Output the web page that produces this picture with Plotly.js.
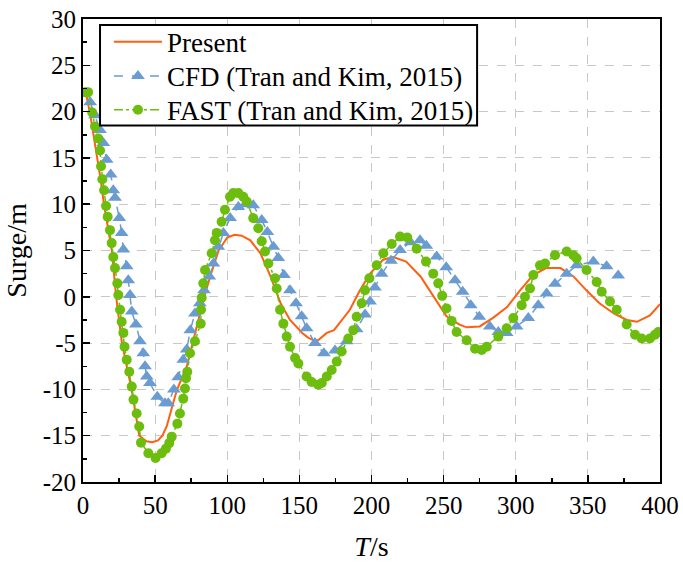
<!DOCTYPE html>
<html>
<head>
<meta charset="utf-8">
<script src="https://cdn.plot.ly/plotly-3.0.1.min.js"></script>
<style>html,body{margin:0;padding:0;background:#fff;}#chart{width:683px;height:563px;}</style>
</head>
<body>
<div id="chart"></div>
<script>
// Present (orange solid line)
var presentT = [0, 2, 4.9, 7.2, 10, 12.3, 14.5, 17.3, 20, 23, 27, 33.7, 39, 44, 48, 52, 55, 58, 65, 72, 79, 84, 89, 94, 100, 105, 110, 116, 123, 130, 137, 143.5, 152, 156, 160, 163, 169, 174, 185, 192, 199, 208, 215, 224, 234, 243, 252, 261, 266, 275, 284, 294, 303, 312, 321, 331, 340, 349, 358, 368, 377, 384, 393, 400];
var presentV = [22.3, 22.0, 19.8, 17.7, 15.0, 12.6, 10.0, 7.6, 5.0, 0.0, -5.0, -10.0, -15.0, -15.6, -15.7, -15.5, -15.0, -14.0, -10.1, -7.5, -3.2, 0.0, 2.6, 5.0, 6.4, 6.7, 6.6, 6.1, 4.7, 2.2, -0.7, -2.5, -3.9, -4.4, -4.7, -4.7, -3.9, -3.6, -1.4, 0.7, 2.5, 4.0, 4.3, 3.8, 2.2, 0.0, -2.1, -3.0, -3.3, -3.2, -2.3, -1.1, 0.7, 2.35, 3.1, 3.1, 2.2, 0.7, -0.7, -1.8, -2.5, -2.7, -2.0, -0.8];

// CFD (Tran and Kim, 2015) (blue dashed, triangles)
var cfdT = [5, 8.3, 11.8, 14.1, 16.4, 19.2, 21, 22.2, 25.2, 26.8, 28, 30.3, 31.4, 32.6, 33.8, 36.7, 39.5, 41.8, 43, 44.2, 46.4, 51.5, 56.8, 59.1, 63, 66, 69.5, 71.9, 74.4, 77.6, 81, 83.9, 87.6, 90.4, 93.8, 97.3, 102, 107.7, 112.5, 118, 123.9, 127.8, 132, 135.4, 139.3, 143.5, 147.7, 151.6, 155, 160.8, 167, 174.7, 182.8, 189.7, 195.5, 199, 202.4, 207, 213.5, 219.8, 227, 233.6, 238, 245.2, 251.8, 257.9, 263.2, 268.8, 274.7, 282, 287.9, 293.7, 300.6, 308.7, 315.6, 321.4, 327.2, 335.3, 342.2, 353.8, 363, 371];
var cfdV = [21.0, 19.6, 18.0, 16.6, 14.8, 13.2, 11.5, 10.7, 8.5, 6.9, 5.1, 3.3, 1.8, 0.2, -1.6, -3.0, -4.8, -6.1, -7.5, -8.6, -9.3, -10.8, -11.5, -11.5, -10.0, -8.7, -6.8, -5.7, -3.6, -1.8, -0.7, 0.7, 2.2, 3.6, 5.4, 6.9, 8.5, 9.7, 10.0, 9.9, 8.3, 7.0, 5.4, 4.2, 2.35, 0.7, -0.7, -2.1, -3.4, -5.0, -6.1, -5.8, -4.8, -3.5, -1.9, -0.5, 1.0, 2.5, 3.9, 5.05, 5.9, 6.1, 5.5, 4.35, 3.2, 1.8, 0.55, -0.9, -2.15, -3.2, -3.8, -3.9, -3.2, -2.3, -0.9, 0.35, 1.4, 2.5, 3.4, 3.8, 3.3, 2.3];

// FAST (Tran and Kim, 2015) (green dash-dot, circles)
var fastT = [1.5, 3.5, 6.4, 8.3, 10.6, 11.8, 12.5, 13.4, 14.6, 16, 17.1, 18.7, 19.9, 21, 22.2, 23.8, 24.5, 25.7, 26.8, 28, 28.8, 30.3, 32.1, 33.8, 35, 37.2, 39, 40.2, 45.3, 50.3, 54.5, 57.5, 59.8, 61.5, 65.4, 67.2, 69.5, 70.7, 71.4, 72.3, 74.2, 77.6, 81.6, 81.8, 82.3, 83.4, 84.6, 89.2, 91.5, 92.7, 96.1, 98.4, 101.9, 104.2, 107.7, 111.1, 113.5, 118, 121.5, 123.9, 126.2, 128.5, 133.1, 134.3, 136.6, 138.9, 141.2, 143.5, 147, 149.3, 155, 158.5, 163, 165.5, 169, 172.4, 175.9, 179.3, 183.9, 187.4, 189.7, 193.2, 195.5, 198.5, 203.6, 208.2, 214, 219.8, 224.8, 231.3, 237.8, 242.8, 246.3, 249, 252, 255.5, 259, 266, 271.8, 276.4, 279.9, 287.9, 293.7, 298.3, 304.1, 306.4, 309.9, 312.2, 316.8, 320.3, 327.2, 335.3, 339.9, 342.2, 349.1, 356.1, 359.6, 365.3, 370, 376.9, 382.7, 387.3, 393, 396.5, 398.8];
var fastV = [22.1, 22.1, 19.9, 18.4, 17.1, 15.8, 14.1, 12.7, 11.5, 9.8, 8.65, 7.2, 5.8, 4.3, 3.1, 1.45, 0.2, -1.4, -2.7, -3.9, -5.4, -6.8, -8.1, -9.7, -11.1, -12.6, -14.0, -15.75, -16.9, -17.4, -16.9, -16.4, -15.8, -15.1, -13.7, -12.6, -11.0, -9.9, -8.8, -8.1, -6.1, -4.8, -2.9, -1.4, -0.1, 1.45, 2.9, 4.7, 6.1, 6.9, 8.1, 9.4, 10.8, 11.2, 11.2, 10.8, 10.3, 8.5, 7.4, 6.0, 4.9, 3.6, 2.0, 0.9, -1.4, -2.9, -4.3, -5.4, -6.6, -7.2, -8.6, -9.2, -9.5, -9.3, -8.6, -7.9, -7.0, -5.9, -4.5, -3.6, -2.15, -0.7, 0.7, 2.0, 3.4, 4.7, 5.7, 6.5, 6.4, 5.2, 3.8, 2.5, 1.45, 0.1, -1.25, -2.6, -3.8, -4.7, -5.6, -5.75, -5.4, -4.3, -3.4, -2.3, -0.9, 0.0, 0.9, 2.35, 3.4, 3.6, 4.5, 4.9, 4.5, 4.15, 2.9, 1.6, 0.55, -0.5, -1.4, -3.0, -4.1, -4.5, -4.5, -4.1, -3.8];

var seriesNames = ['Present', 'CFD (Tran and Kim, 2015)', 'FAST (Tran and Kim, 2015)'];
var xTicks = [0, 50, 100, 150, 200, 250, 300, 350, 400];
var yTicks = [-20, -15, -10, -5, 0, 5, 10, 15, 20, 25, 30];

var FONT = 'Liberation Serif, Times New Roman, serif';
var ORANGE = '#ff5f0f', BLUE = '#6a9bd1', GREEN = '#6cbd0e';

var traces = [
  {x: presentT, y: presentV, name: seriesNames[0], type: 'scatter', mode: 'lines', legend: 'legend',
   line: {color: ORANGE, width: 2}},
  {x: cfdT, y: cfdV, name: seriesNames[1], type: 'scatter', mode: 'lines+markers', legend: 'legend2',
   line: {color: BLUE, width: 1.5, dash: 'dash'},
   marker: {symbol: 'triangle-up', size: 12, color: BLUE}},
  {x: fastT, y: fastV, name: seriesNames[2], type: 'scatter', mode: 'lines+markers', legend: 'legend3',
   line: {color: GREEN, width: 1.5, dash: 'dashdot'},
   marker: {symbol: 'circle', size: 10, color: GREEN}}
];

var axisCommon = {
  showline: true, linecolor: '#000', linewidth: 2, mirror: true,
  ticks: 'inside', ticklen: 7, tickwidth: 1.5, tickcolor: '#000',
  showgrid: true, gridcolor: '#c8c8c8', griddash: 'dash', gridwidth: 1,
  zeroline: false,
  tickfont: {family: FONT, size: 25, color: '#000'}
};

function legendAt(yFrac) {
  return {x: 0.045, y: yFrac, xanchor: 'left', yanchor: 'middle',
          bgcolor: 'rgba(0,0,0,0)', borderwidth: 0, itemwidth: 48,
          font: {family: FONT, size: 27, color: '#000'}};
}

var layout = {
  width: 683, height: 563,
  margin: {l: 83, r: 23, t: 19, b: 81},
  paper_bgcolor: '#fff', plot_bgcolor: '#fff',
  showlegend: true,
  legend: legendAt(0.950),
  legend2: legendAt(0.876),
  legend3: legendAt(0.803),
  shapes: [{type: 'rect', xref: 'paper', yref: 'paper', layer: 'above',
            x0: 0.0295, x1: 0.683, y0: 0.770, y1: 0.987,
            line: {color: '#000', width: 2}, fillcolor: '#fff'}],
  xaxis: Object.assign({}, axisCommon, {
    range: [0, 400], tickvals: xTicks, ticktext: xTicks.map(String),
    minor: {ticks: 'inside', ticklen: 4, tickwidth: 1.5, tickcolor: '#000', dtick: 25, tick0: 0, showgrid: false},
    title: {text: '<i>T</i>/s', font: {family: FONT, size: 28, color: '#000'}, standoff: 18}
  }),
  yaxis: Object.assign({}, axisCommon, {
    range: [-20, 30], tickvals: yTicks, ticktext: yTicks.map(String),
    minor: {ticks: 'inside', ticklen: 4, tickwidth: 1.5, tickcolor: '#000', dtick: 2.5, tick0: 0, showgrid: false},
    title: {text: 'Surge/m', font: {family: FONT, size: 28, color: '#000'}, standoff: 8}
  })
};

Plotly.newPlot('chart', traces, layout, {displayModeBar: false, staticPlot: true});
</script>
</body>
</html>
